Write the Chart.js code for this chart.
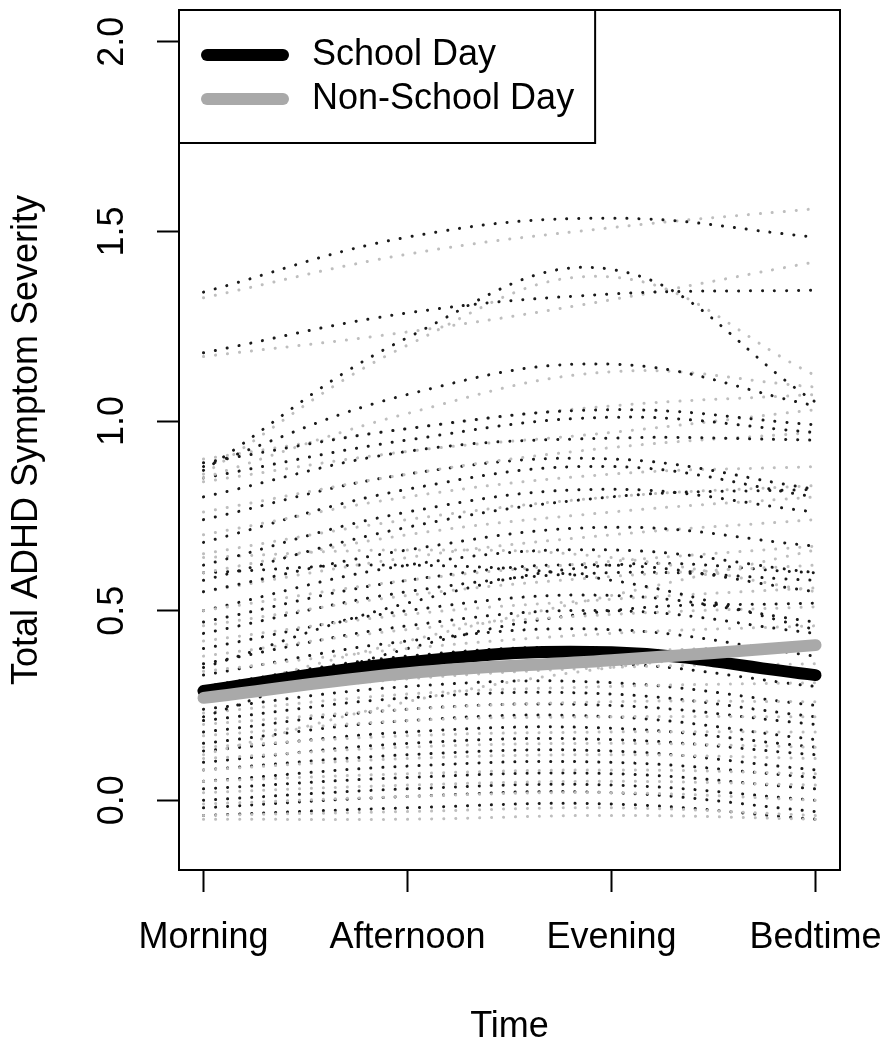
<!DOCTYPE html>
<html>
<head>
<meta charset="utf-8">
<script src="https://cdn.jsdelivr.net/npm/chart.js@4"></script>
<style>
  html, body { margin: 0; padding: 0; background: #fff; }
  canvas { display: block; }
</style>
</head>
<body>
<canvas id="chart" width="891" height="1050"></canvas>
<script>
// time points on the x axis and y tick values
const timePoints = ['Morning', 'Afternoon', 'Evening', 'Bedtime'];
const yTicks = [0, 0.5, 1, 1.5, 2];
const seriesNames = ['School Day', 'Non-School Day'];

// average curves (thick lines)
const schoolMean = [0.288, 0.364, 0.39, 0.33];
const nonSchoolMean = [0.27, 0.335, 0.369, 0.409];

// individual curves, school days (black dotted)
const schoolIndividual = [
    [1.34, 1.485, 1.535, 1.485],
    [1.18, 1.285, 1.335, 1.345],
    [0.87, 1.22, 1.40, 1.05],
    [0.88, 1.07, 1.15, 1.04],
    [0.89, 0.98, 1.03, 0.99],
    [0.85, 0.95, 1.01, 0.97],
    [0.80, 0.92, 0.955, 0.95],
    [0.74, 0.86, 0.90, 0.82],
    [0.68, 0.82, 0.88, 0.80],
    [0.62, 0.76, 0.82, 0.76],
    [0.58, 0.72, 0.80, 0.82],
    [0.55, 0.66, 0.72, 0.67],
    [0.60, 0.62, 0.58, 0.45],
    [0.50, 0.62, 0.66, 0.60],
    [0.47, 0.58, 0.62, 0.55],
    [0.44, 0.55, 0.60, 0.58],
    [0.35, 0.52, 0.62, 0.60],
    [0.40, 0.50, 0.54, 0.47],
    [0.22, 0.40, 0.50, 0.52],
    [0.36, 0.46, 0.50, 0.44],
    [0.33, 0.42, 0.45, 0.38],
    [0.30, 0.38, 0.40, 0.34],
    [0.27, 0.34, 0.36, 0.30],
    [0.24, 0.30, 0.31, 0.25],
    [0.21, 0.27, 0.28, 0.22],
    [0.18, 0.24, 0.25, 0.20],
    [0.15, 0.21, 0.22, 0.16],
    [0.13, 0.18, 0.19, 0.14],
    [0.10, 0.15, 0.16, 0.12],
    [0.08, 0.12, 0.13, 0.08],
    [0.05, 0.09, 0.10, 0.06],
    [0.03, 0.06, 0.07, 0.03],
    [0.00, 0.03, 0.04, 0.00],
    [-0.02, 0.01, 0.02, -0.03],
    [-0.04, -0.02, -0.01, -0.05]
];

// individual curves, non-school days (grey dotted)
const nonSchoolIndividual = [
    [1.325, 1.44, 1.51, 1.56],
    [1.17, 1.235, 1.32, 1.42],
    [0.86, 1.20, 1.38, 1.12],
    [0.85, 1.02, 1.13, 1.09],
    [0.90, 0.98, 1.04, 1.07],
    [0.84, 0.92, 0.97, 1.03],
    [0.76, 0.86, 0.93, 0.97],
    [0.70, 0.80, 0.86, 0.88],
    [0.65, 0.74, 0.80, 0.83],
    [0.64, 0.66, 0.64, 0.55],
    [0.60, 0.70, 0.76, 0.80],
    [0.55, 0.64, 0.70, 0.74],
    [0.50, 0.58, 0.63, 0.67],
    [0.28, 0.42, 0.54, 0.66],
    [0.46, 0.54, 0.59, 0.62],
    [0.42, 0.49, 0.53, 0.56],
    [0.38, 0.45, 0.49, 0.51],
    [0.34, 0.40, 0.44, 0.46],
    [0.12, 0.26, 0.35, 0.40],
    [0.30, 0.36, 0.39, 0.41],
    [0.27, 0.32, 0.35, 0.36],
    [0.23, 0.28, 0.30, 0.31],
    [0.20, 0.24, 0.26, 0.26],
    [0.17, 0.21, 0.22, 0.22],
    [0.14, 0.17, 0.18, 0.18],
    [0.11, 0.14, 0.15, 0.14],
    [0.08, 0.11, 0.12, 0.11],
    [0.05, 0.07, 0.08, 0.07],
    [0.02, 0.04, 0.05, 0.04],
    [-0.01, 0.01, 0.02, 0.00],
    [-0.04, -0.03, -0.02, -0.04],
    [-0.05, -0.05, -0.04, -0.05]
];

const FONT = "'Liberation Sans', Arial, Helvetica, sans-serif";
const FONT_SIZE = 36;
const GREY_THICK = '#a9a9a9';
const GREY_DOT = '#bebebe';

function toPoints(values) {
    return values.map(function (v, i) { return { x: i + 1, y: v }; });
}

function dotted(values, color) {
    return {
        data: toPoints(values),
        borderColor: color,
        borderWidth: 3,
        borderDash: [0.1, 11.9],
        borderCapStyle: 'round',
        tension: 0.4,
        pointRadius: 0,
        fill: false
    };
}

// thick lines first so they are drawn on top
const datasets = [
    { label: seriesNames[1], data: toPoints(nonSchoolMean), borderColor: GREY_THICK, borderWidth: 12,
      borderCapStyle: 'round', tension: 0.4, pointRadius: 0, fill: false },
    { label: seriesNames[0], data: toPoints(schoolMean), borderColor: '#000', borderWidth: 12,
      borderCapStyle: 'round', tension: 0.4, pointRadius: 0, fill: false }
];
const n = Math.max(schoolIndividual.length, nonSchoolIndividual.length);
for (let i = 0; i < n; i++) {
    if (schoolIndividual[i]) datasets.push(dotted(schoolIndividual[i], '#1a1a1a'));
    if (nonSchoolIndividual[i]) datasets.push(dotted(nonSchoolIndividual[i], GREY_DOT));
}

// box around the plot and R style legend in the top left corner
const framePlugin = {
    id: 'frame',
    afterDatasetsDraw: function (chart) {
        const ca = chart.chartArea;
        const ctx = chart.ctx;
        ctx.save();
        ctx.strokeStyle = '#000';
        ctx.lineWidth = 2;
        ctx.strokeRect(ca.left, ca.top, ca.right - ca.left, ca.bottom - ca.top);

        ctx.font = FONT_SIZE + 'px ' + FONT;
        const textX = ca.left + 133;
        let maxW = 0;
        seriesNames.forEach(function (s) { maxW = Math.max(maxW, ctx.measureText(s).width); });
        const boxW = textX - ca.left + maxW + 21;
        const boxH = 133;
        ctx.fillStyle = '#fff';
        ctx.fillRect(ca.left, ca.top, boxW, boxH);
        ctx.strokeRect(ca.left, ca.top, boxW, boxH);

        const colors = ['#000', GREY_THICK];
        seriesNames.forEach(function (s, i) {
            const y = ca.top + 45 + i * 44;
            ctx.strokeStyle = colors[i];
            ctx.lineWidth = 12;
            ctx.lineCap = 'round';
            ctx.beginPath();
            ctx.moveTo(ca.left + 28, y);
            ctx.lineTo(ca.left + 104, y);
            ctx.stroke();
            ctx.fillStyle = '#000';
            ctx.textAlign = 'left';
            ctx.textBaseline = 'middle';
            ctx.fillText(s, textX, y);
        });
        ctx.restore();
    }
};

function noPadding(scale) {
    scale.paddingTop = 0;
    scale.paddingBottom = 0;
    scale.paddingLeft = 0;
    scale.paddingRight = 0;
}

const tickFont = { family: FONT, size: FONT_SIZE };

new Chart(document.getElementById('chart'), {
    type: 'line',
    data: { datasets: datasets },
    options: {
        responsive: false,
        animation: false,
        devicePixelRatio: 1,
        layout: { padding: { left: 0, top: 10, right: 51, bottom: 0 } },
        plugins: { legend: { display: false }, tooltip: { enabled: false } },
        scales: {
            x: {
                type: 'linear',
                min: 0.88,
                max: 4.12,
                afterBuildTicks: function (scale) {
                    scale.ticks = timePoints.map(function (t, i) { return { value: i + 1 }; });
                },
                afterFit: function (scale) { scale.height = 180; noPadding(scale); },
                grid: { display: true, drawOnChartArea: false, drawTicks: true, tickLength: 22, tickColor: '#000', tickWidth: 2 },
                border: { display: false },
                ticks: {
                    autoSkip: false, maxRotation: 0, padding: 24, color: '#000', font: tickFont,
                    callback: function (v) { return timePoints[Math.round(v) - 1]; }
                },
                title: { display: true, text: 'Time', color: '#000', font: tickFont, padding: { top: 0, bottom: 1 } }
            },
            y: {
                type: 'linear',
                min: -0.184,
                max: 2.084,
                afterBuildTicks: function (scale) {
                    scale.ticks = yTicks.map(function (v) { return { value: v }; });
                },
                afterFit: function (scale) { scale.width = 179; noPadding(scale); },
                grid: { display: true, drawOnChartArea: false, drawTicks: true, tickLength: 22, tickColor: '#000', tickWidth: 2 },
                border: { display: false },
                ticks: {
                    autoSkip: false, minRotation: 90, maxRotation: 90, crossAlign: 'center', padding: 19,
                    color: '#000', font: tickFont,
                    callback: function (v) { return v.toFixed(1); }
                },
                title: { display: true, text: 'Total ADHD Symptom Severity', color: '#000', font: tickFont, padding: { top: 5, bottom: 0 } }
            }
        }
    },
    plugins: [framePlugin]
});
</script>
</body>
</html>
